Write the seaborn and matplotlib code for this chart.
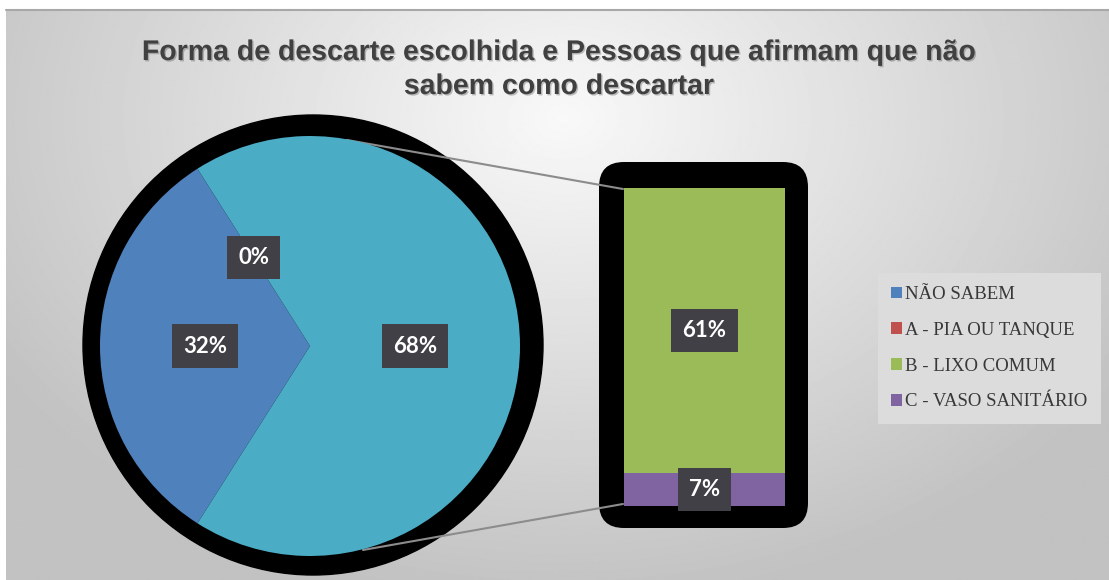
import numpy as np
import pandas as pd
import matplotlib
matplotlib.use('Agg')
import matplotlib.pyplot as plt
import matplotlib.patheffects as pe
import seaborn as sns
from matplotlib.patches import Circle, FancyBboxPatch, Patch

# dados (pizza de barra do Excel)
categorias = ['NÃO SABEM', 'A - PIA OU TANQUE', 'B - LIXO COMUM', 'C - VASO SANITÁRIO']
percentuais = [32, 0, 61, 7]
cores = ['#4F81BD', '#C0504D', '#9BBB59', '#8064A2']
cor_outros = '#4BACC6'
titulo = 'Forma de descarte escolhida e Pessoas que afirmam que não\nsabem como descartar'

sns.set_theme(style='white')
plt.rcParams['font.family'] = ['Lato', 'DejaVu Sans']

W, H = 1109, 580
fig = plt.figure(figsize=(W / 100, H / 100), dpi=100)
ax = fig.add_axes([0, 0, 1, 1])

# fundo com gradiente radial (estilo Excel)
xx, yy = np.meshgrid(np.arange(W), np.arange(H))
d = np.sqrt(((xx - 560) / 650.0) ** 2 + ((yy - 110) / 480.0) ** 2)
g = np.clip(0.975 - 0.21 * d, 0.76, 1)
ax.imshow(g, cmap='gray', vmin=0, vmax=1, extent=(6, W, 0, H - 10),
          origin='upper', aspect='auto', zorder=0)
ax.plot([6, W], [H - 10, H - 10], color='#a8a8a8', lw=1.5, zorder=0.5)

# pizza
cx, cy, r = 310, H - 346, 210
ax.add_patch(Circle((cx + 3, cy + 1), 230, color='black', zorder=1))
valores_pizza = [percentuais[1], percentuais[0], sum(percentuais[1:])]
inicio = 180 - percentuais[0] * 1.8
wedges, _, autotexts = ax.pie(
    valores_pizza, colors=[cores[1], cores[0], cor_outros], center=(cx, cy),
    radius=r, startangle=inicio, counterclock=True, autopct='%.0f%%',
    pctdistance=0.5, frame=True, wedgeprops=dict(linewidth=0, zorder=2),
    textprops=dict(color='white', fontsize=16, fontweight='bold'))

caixa = dict(boxstyle='square,pad=0.5', facecolor='#404046', edgecolor='none')
for t in autotexts:
    t.set_bbox(caixa)
    t.set_zorder(5)

# linhas de ligação
ax.plot([347, 623], [H - 140, H - 189], color='#8c8c8c', lw=1.5, zorder=1.5)
ax.plot([363, 623], [H - 550, H - 504], color='#8c8c8c', lw=1.5, zorder=1.5)

# sombra preta da barra
ax.add_patch(FancyBboxPatch((624, 77), 159, 316, boxstyle='round,pad=25',
                            facecolor='black', edgecolor='none', zorder=1))

ax.set_xlim(0, W)
ax.set_ylim(0, H)
ax.set_aspect('auto')
ax.axis('off')

ax.text(559, H - 70, titulo, ha='center', va='center', fontsize=20.5,
        fontweight='bold', color='#404040', linespacing=1.4,
        family=['Liberation Sans', 'DejaVu Sans'],
        path_effects=[pe.withSimplePatchShadow(offset=(1, -1), alpha=0.25)])

# barra empilhada
axb = fig.add_axes([624 / W, (H - 506) / H, (785 - 624) / W, (506 - 188) / H])
axb.patch.set_alpha(0)
df_outros = pd.DataFrame({'grupo': ['Outros'], 'valor': [sum(percentuais[1:])]})
df_vaso = pd.DataFrame({'grupo': ['Outros'], 'valor': [percentuais[3]]})
sns.barplot(data=df_outros, x='grupo', y='valor', color=cores[2], width=1,
            saturation=1, linewidth=0, ax=axb)
sns.barplot(data=df_vaso, x='grupo', y='valor', color=cores[3], width=1,
            saturation=1, linewidth=0, ax=axb)
axb.set_xlim(-0.5, 0.5)
axb.set_ylim(0, sum(percentuais[1:]))
axb.axis('off')

axb.text(0, percentuais[3] + percentuais[2] / 2, f'{percentuais[2]}%', ha='center',
         va='center', color='white', fontsize=16, fontweight='bold', bbox=caixa, zorder=5)
axb.text(0, percentuais[3] / 2, f'{percentuais[3]}%', ha='center',
         va='center', color='white', fontsize=16, fontweight='bold', bbox=caixa, zorder=5)

# legenda
handles = [Patch(facecolor=c, edgecolor='none', label=l) for c, l in zip(cores, categorias)]
leg = ax.legend(handles=handles, loc='upper left', bbox_to_anchor=(878 / W, 1 - 273 / H),
                bbox_transform=fig.transFigure, prop=dict(family='Liberation Serif', size=13.5),
                frameon=True, facecolor='#dcdcdc', edgecolor='none', fancybox=False,
                framealpha=1, handlelength=0.6, handleheight=0.6, handletextpad=0.15,
                labelspacing=1.0, borderpad=0.7, borderaxespad=0)
for t in leg.get_texts():
    t.set_color('#383838')

fig.savefig('out.png', dpi=100)
